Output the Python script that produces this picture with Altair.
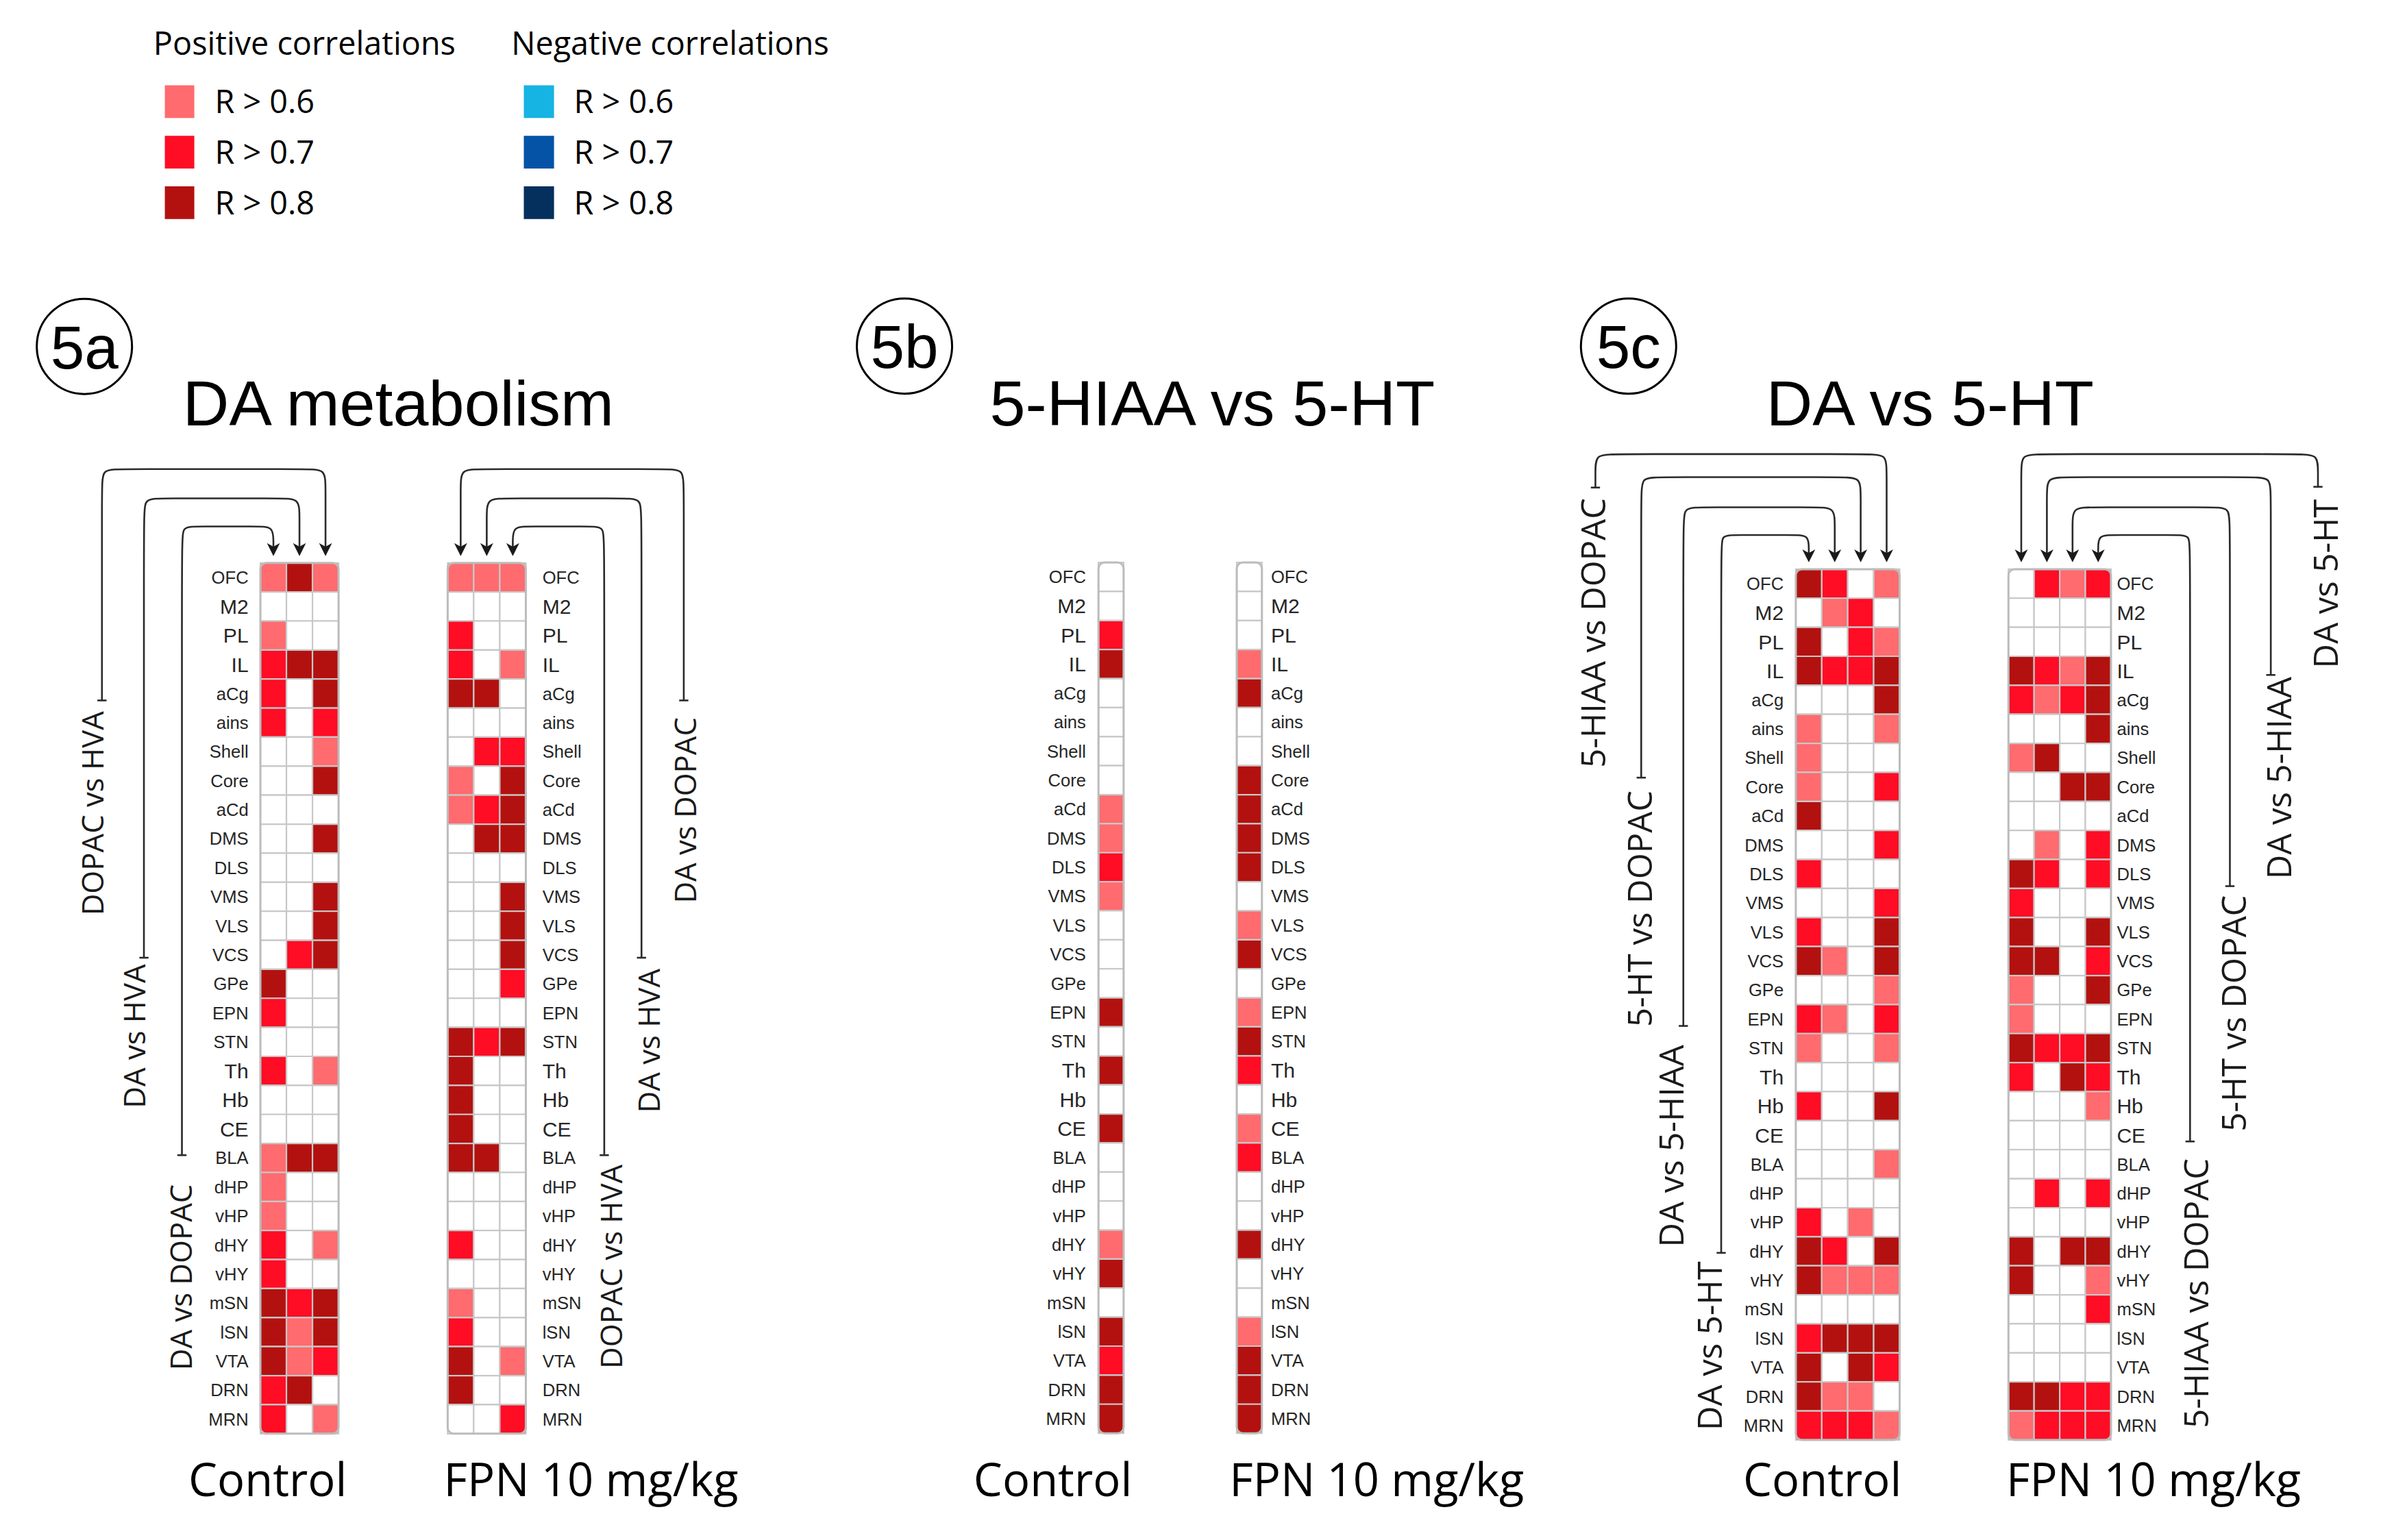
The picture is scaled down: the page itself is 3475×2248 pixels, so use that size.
import altair as alt
import pandas as pd

# ---------------------------------------------------------------- data
REGIONS = ["OFC", "M2", "PL", "IL", "aCg", "ains", "Shell", "Core", "aCd", "DMS",
           "DLS", "VMS", "VLS", "VCS", "GPe", "EPN", "STN", "Th", "Hb", "CE",
           "BLA", "dHP", "vHP", "dHY", "vHY", "mSN", "lSN", "VTA", "DRN", "MRN"]
BIG_LABELS = ["M2", "PL", "IL", "Th", "Hb", "CE"]

LEVEL_CODES = [0, 1, 2, 3]            # 0 = n.s., 1 = R>0.6, 2 = R>0.7, 3 = R>0.8
POSITIVE_COLORS = ["#FFFFFF", "#FF6B6E", "#FF0C25", "#B3110F"]
NEGATIVE_COLORS = ["#16B4E2", "#0453A7", "#05305E"]
THRESHOLD_LABELS = ["R > 0.6", "R > 0.7", "R > 0.8"]

DA_COMPARISONS = ["DA vs DOPAC", "DA vs HVA", "DOPAC vs HVA"]
SERO_COMPARISONS = ["5-HIAA vs 5-HT"]
MIX_COMPARISONS = ["DA vs 5-HT", "DA vs 5-HIAA", "5-HT vs DOPAC", "5-HIAA vs DOPAC"]

# 5a  DA metabolism
A_CTRL_DA_DOPAC = [1, 0, 1, 2, 2, 2, 0, 0, 0, 0, 0, 0, 0, 0, 3, 2, 0, 2, 0, 0, 1, 1, 1, 2, 2, 3, 3, 3, 2, 2]
A_CTRL_DA_HVA = [3, 0, 0, 3, 0, 0, 0, 0, 0, 0, 0, 0, 0, 2, 0, 0, 0, 0, 0, 0, 3, 0, 0, 0, 0, 2, 1, 1, 3, 0]
A_CTRL_DOPAC_HVA = [1, 0, 0, 3, 3, 2, 1, 3, 0, 3, 0, 3, 3, 3, 0, 0, 0, 1, 0, 0, 3, 0, 0, 1, 0, 3, 3, 2, 0, 1]
A_FPN_DA_DOPAC = [1, 0, 2, 2, 3, 0, 0, 1, 1, 0, 0, 0, 0, 0, 0, 0, 3, 3, 3, 3, 3, 0, 0, 2, 0, 1, 2, 3, 3, 0]
A_FPN_DA_HVA = [1, 0, 0, 0, 3, 0, 2, 0, 2, 3, 0, 0, 0, 0, 0, 0, 2, 0, 0, 0, 3, 0, 0, 0, 0, 0, 0, 0, 0, 0]
A_FPN_DOPAC_HVA = [1, 0, 0, 1, 0, 0, 2, 3, 3, 3, 0, 3, 3, 3, 2, 0, 3, 0, 0, 0, 0, 0, 0, 0, 0, 0, 0, 1, 0, 2]
# 5b  5-HIAA vs 5-HT
B_CTRL_5HIAA_5HT = [0, 0, 2, 3, 0, 0, 0, 0, 1, 1, 2, 1, 0, 0, 0, 3, 0, 3, 0, 3, 0, 0, 0, 1, 3, 0, 3, 2, 3, 3]
B_FPN_5HIAA_5HT = [0, 0, 0, 1, 3, 0, 0, 3, 3, 3, 3, 0, 1, 3, 0, 1, 3, 2, 0, 1, 2, 0, 0, 3, 0, 0, 1, 3, 3, 3]
# 5c  DA vs 5-HT
C_CTRL_DA_5HT = [3, 0, 3, 3, 0, 1, 1, 1, 3, 0, 2, 0, 2, 3, 0, 2, 1, 0, 2, 0, 0, 0, 2, 3, 3, 0, 2, 3, 3, 2]
C_CTRL_DA_5HIAA = [2, 1, 0, 2, 0, 0, 0, 0, 0, 0, 0, 0, 0, 1, 0, 1, 0, 0, 0, 0, 0, 0, 0, 2, 1, 0, 3, 0, 1, 2]
C_CTRL_5HT_DOPAC = [0, 2, 2, 2, 0, 0, 0, 0, 0, 0, 0, 0, 0, 0, 0, 0, 0, 0, 0, 0, 0, 0, 1, 0, 1, 0, 3, 3, 1, 2]
C_CTRL_5HIAA_DOPAC = [1, 0, 1, 3, 3, 1, 0, 2, 0, 2, 0, 2, 3, 3, 1, 2, 1, 0, 3, 0, 1, 0, 0, 3, 1, 0, 3, 2, 0, 1]
C_FPN_DA_5HT = [0, 0, 0, 3, 2, 0, 1, 0, 0, 0, 3, 2, 3, 3, 1, 1, 3, 2, 0, 0, 0, 0, 0, 3, 3, 0, 0, 0, 3, 1]
C_FPN_DA_5HIAA = [2, 0, 0, 2, 1, 0, 3, 0, 0, 1, 2, 0, 0, 3, 0, 0, 2, 0, 0, 0, 0, 2, 0, 0, 0, 0, 0, 0, 3, 2]
C_FPN_5HT_DOPAC = [1, 0, 0, 1, 2, 0, 0, 3, 0, 0, 0, 0, 0, 0, 0, 0, 2, 3, 0, 0, 0, 0, 0, 3, 0, 0, 0, 0, 2, 2]
C_FPN_5HIAA_DOPAC = [2, 0, 0, 3, 3, 3, 0, 3, 0, 2, 2, 0, 3, 2, 3, 0, 3, 2, 1, 0, 0, 2, 0, 3, 1, 2, 0, 0, 2, 2]

PANEL_TITLES = ["DA metabolism", "5-HIAA vs 5-HT", "DA vs 5-HT"]
PANEL_TAGS = ["5a", "5b", "5c"]
GROUPS = ["Control", "FPN 10 mg/kg"]

# ---------------------------------------------------------------- layout (reference units, 1 unit = S px)
S = 3475 / 1560.0
MARGIN = 8
W_PX, H_PX = 3475 - 2 * MARGIN, 2248 - 2 * MARGIN
RH = 19.02

# bracket: (column index, line x, top y, bottom y, label centre y, label centre dx)
PANELS = [
    dict(x0=170.6, top=368.9, cw=17.07, side="left", lab=162.8, lfs=19.6,
         cols=[A_CTRL_DA_DOPAC, A_CTRL_DA_HVA, A_CTRL_DOPAC_HVA], names=DA_COMPARISONS,
         brackets=[(2, 66.8, 307.4, 459.0, 533.0, -6.0),
                   (1, 94.3, 326.6, 627.6, 679.0, -6.2),
                   (0, 119.2, 345.0, 757.0, 837.0, -0.6)]),
    dict(x0=293.3, top=368.9, cw=17.07, side="right", lab=355.4, lfs=19.6,
         cols=[A_FPN_DA_DOPAC, A_FPN_DA_HVA, A_FPN_DOPAC_HVA], names=DA_COMPARISONS,
         brackets=[(0, 448.0, 307.4, 459.0, 531.0, 1.1),
                   (1, 420.3, 326.6, 627.6, 682.0, 4.8),
                   (2, 395.9, 345.0, 757.0, 830.0, 4.8)]),
    dict(x0=719.7, top=368.6, cw=16.5, side="left", lab=711.5, lfs=19.6,
         cols=[B_CTRL_5HIAA_5HT], names=SERO_COMPARISONS, brackets=[]),
    dict(x0=810.3, top=368.6, cw=16.5, side="right", lab=832.7, lfs=19.6,
         cols=[B_FPN_5HIAA_5HT], names=SERO_COMPARISONS, brackets=[]),
    dict(x0=1176.6, top=373.0, cw=17.0, side="left", lab=1168.6, lfs=22.0,
         cols=[C_CTRL_DA_5HT, C_CTRL_DA_5HIAA, C_CTRL_5HT_DOPAC, C_CTRL_5HIAA_DOPAC], names=MIX_COMPARISONS,
         brackets=[(3, 1045.3, 297.6, 319.5, 414.7, -1.3),
                   (2, 1075.3, 312.7, 509.6, 595.5, -0.9),
                   (1, 1102.9, 332.4, 672.3, 751.0, -7.7),
                   (0, 1127.7, 350.6, 821.0, 882.0, -7.4)]),
    dict(x0=1315.9, top=373.0, cw=16.8, side="right", lab=1386.9, lfs=22.0,
         cols=[C_FPN_DA_5HT, C_FPN_DA_5HIAA, C_FPN_5HT_DOPAC, C_FPN_5HIAA_DOPAC], names=MIX_COMPARISONS,
         brackets=[(0, 1518.7, 297.6, 319.0, 382.5, 5.3),
                   (1, 1487.8, 312.7, 442.3, 509.8, 5.6),
                   (2, 1461.0, 332.4, 580.7, 664.0, 2.7),
                   (3, 1434.9, 350.6, 748.0, 847.5, 4.3)]),
]
TITLE_X = [261.0, 794.3, 1264.5]
TAG_XY = [(55.3, 227.0), (592.6, 226.8), (1067.0, 226.8)]
GROUP_X = [(175.4, 387.2), (689.8, 902.0), (1194.0, 1411.0)]

# ---------------------------------------------------------------- build tables
cells, frames, labels_l, labels_r = [], [], [], []
lines, heads, ticks, blabels = [], [], [], []
AH = 8.5
for pi, p in enumerate(PANELS):
    n = len(p["cols"])
    for ci, vals in enumerate(p["cols"]):
        for ri, v in enumerate(vals):
            x = p["x0"] + ci * p["cw"]
            y = p["top"] + ri * RH
            cells.append(dict(region=REGIONS[ri], comparison=p["names"][ci], level=v,
                              x=x, x2=x + p["cw"], y=y, y2=y + RH))
    frames.append(dict(x=p["x0"], x2=p["x0"] + n * p["cw"], y=p["top"], y2=p["top"] + 30 * RH))
    for ri, reg in enumerate(REGIONS):
        fs = 13.5 if reg in BIG_LABELS else 11.5
        rec = dict(text=reg, x=p["lab"], y=p["top"] + (ri + 0.5) * RH + 0.358 * fs, fs=fs * S)
        (labels_l if p["side"] == "right" else labels_r).append(rec)
    tip = p["top"] - 4.5
    for bi, (ci, lx, yt, yb, lcy, ldx) in enumerate(p["brackets"]):
        bid = f"{pi}-{bi}"
        cc = p["x0"] + (ci + 0.5) * p["cw"]
        yend = tip - AH / 2
        sg = 1 if lx < cc else -1
        r = min(12.0, (yend - yt) * 0.7)
        seq = [(lx, yb), (lx, yt + r), (lx, yt), (lx + sg * r, yt),
               (cc - sg * r, yt), (cc, yt), (cc, yt + r), (cc, yend)]
        for k, (px, py) in enumerate(seq):
            lines.append(dict(bid=bid, i=k, x=px, y=py))
        heads.append(dict(x=cc, y=tip - AH / 2))
        ticks.append(dict(x=lx - 3, x2=lx + 3, y=yb))
        blabels.append(dict(text=p["names"][ci], x=lx + ldx + 0.357 * p["lfs"], y=lcy, fs=p["lfs"] * S))

titles = [dict(text=t, x=x, y=278.6, fs=42.0 * S) for t, x in zip(PANEL_TITLES, TITLE_X)]
tags = [dict(text=t, x=x, y=y, ty=y + 14.4, fs=40.0 * S) for t, (x, y) in zip(PANEL_TAGS, TAG_XY)]
groups = []
for gx in GROUP_X:
    for g, x in zip(GROUPS, gx):
        groups.append(dict(text=g, x=x, y=980.5, fs=30.0 * S))

legend_sw, legend_tx = [], []
for k, lab in enumerate(THRESHOLD_LABELS):
    cy = 66.6 + k * 33.1
    legend_sw.append(dict(x=108.0, x2=127.3, y=cy - 10.7, y2=cy + 10.7, fill=POSITIVE_COLORS[k + 1]))
    legend_sw.append(dict(x=343.2, x2=363.0, y=cy - 10.7, y2=cy + 10.7, fill=NEGATIVE_COLORS[k]))
    legend_tx.append(dict(text=lab, x=140.7, y=cy + 7.5, fs=21.0 * S))
    legend_tx.append(dict(text=lab, x=376.0, y=cy + 7.5, fs=21.0 * S))
legend_tx.append(dict(text="Positive correlations", x=100.5, y=36.1, fs=21.0 * S))
legend_tx.append(dict(text="Negative correlations", x=335.0, y=36.1, fs=21.0 * S))

# ---------------------------------------------------------------- chart
XS = alt.Scale(domain=[MARGIN / S, (3475 - MARGIN) / S], nice=False, zero=False)
YS = alt.Scale(domain=[MARGIN / S, (2248 - MARGIN) / S], nice=False, zero=False, reverse=True)


def X(f):
    return alt.X(f"{f}:Q", scale=XS, axis=None)


def Y(f):
    return alt.Y(f"{f}:Q", scale=YS, axis=None)


def text_layer(rows, font, align, color="#1a1a1a", angle=None, ycol="y"):
    kw = dict(font=font, align=align, baseline="alphabetic", color=color)
    if angle is not None:
        kw["angle"] = angle
    return alt.Chart(pd.DataFrame(rows)).mark_text(**kw).encode(
        x=X("x"), y=Y(ycol), text="text:N", size=alt.Size("fs:Q", scale=None))


layers = [
    alt.Chart(pd.DataFrame(cells)).mark_rect(stroke="#c8c8c8", strokeWidth=2.2).encode(
        x=X("x"), x2="x2:Q", y=Y("y"), y2="y2:Q",
        color=alt.Color("level:O", scale=alt.Scale(domain=LEVEL_CODES, range=POSITIVE_COLORS), legend=None)),
    alt.Chart(pd.DataFrame(frames)).mark_rect(fill="white", fillOpacity=0, stroke="#bcbcbc",
                                             strokeWidth=3, cornerRadius=9).encode(
        x=X("x"), x2="x2:Q", y=Y("y"), y2="y2:Q"),
    text_layer(labels_r, "Liberation Sans", "right", color="#262626"),
    text_layer(labels_l, "Liberation Sans", "left", color="#262626"),
    alt.Chart(pd.DataFrame(lines)).mark_line(interpolate="basis", color="#2a2a2a", strokeWidth=2.6).encode(
        x=X("x"), y=Y("y"), detail="bid:N", order="i:Q"),
    alt.Chart(pd.DataFrame(heads)).mark_point(shape="M-1,-1L0,-0.45L1,-1L0,1Z", filled=True, opacity=1,
                                              color="#1a1a1a", size=(AH * S) ** 2).encode(
        x=X("x"), y=Y("y")),
    alt.Chart(pd.DataFrame(ticks)).mark_rule(color="#2a2a2a", strokeWidth=2.6).encode(
        x=X("x"), x2="x2:Q", y=Y("y")),
    text_layer(blabels, "Open Sans", "center", angle=270),
    text_layer(titles, "Liberation Sans", "center", color="black"),
    alt.Chart(pd.DataFrame(tags)).mark_point(shape="circle", filled=False, color="black", opacity=1,
                                             strokeWidth=3, size=(2 * 31.2 * S) ** 2).encode(
        x=X("x"), y=Y("y")),
    text_layer(tags, "Liberation Sans", "center", color="black", ycol="ty"),
    text_layer(groups, "Open Sans", "center", color="black"),
    alt.Chart(pd.DataFrame(legend_sw)).mark_rect().encode(
        x=X("x"), x2="x2:Q", y=Y("y"), y2="y2:Q", fill=alt.Fill("fill:N", scale=None)),
    text_layer(legend_tx, "Open Sans", "left", color="black"),
]

chart = alt.layer(*layers).properties(
    width=W_PX, height=H_PX, padding=0,
    autosize=alt.AutoSizeParams(type="none"), background="white"
).configure_view(stroke=None)

chart.save("out.html", embed_options={"renderer": "svg", "actions": False})
